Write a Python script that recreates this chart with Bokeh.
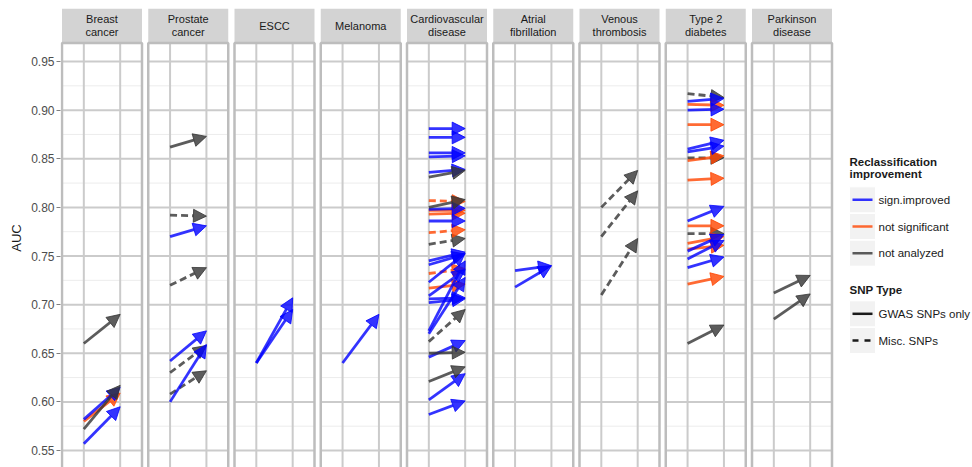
from bokeh.plotting import figure
from bokeh.models import Range1d, FixedTicker, PrintfTickFormatter, Arrow, NormalHead, ColumnDataSource
from bokeh.embed import file_html
from bokeh.resources import INLINE
from bokeh.core.properties import value

# ---------------- data ----------------
panels = ["Breast\ncancer", "Prostate\ncancer", "ESCC", "Melanoma", "Cardiovascular\ndisease",
          "Atrial\nfibrillation", "Venous\nthrombosis", "Type 2\ndiabetes", "Parkinson\ndisease"]

# one entry per study arrow: panel index, AUC without SNPs, AUC with SNPs, reclassification, SNP type
arrow_panel = [0, 0, 0, 0, 0,
               1, 1, 1, 1, 1, 1, 1, 1,
               2, 2,
               3,
               4, 4, 4, 4, 4, 4, 4, 4, 4, 4, 4, 4, 4, 4, 4, 4, 4, 4,
               4, 4, 4, 4, 4, 4, 4, 4, 4, 4, 4, 4,
               5, 5,
               6, 6, 6,
               7, 7, 7, 7, 7, 7, 7, 7, 7, 7, 7, 7, 7, 7, 7, 7, 7, 7, 7, 7,
               8, 8]
auc_without = [0.660, 0.572, 0.582, 0.580, 0.557,
               0.862, 0.792, 0.770, 0.720, 0.642, 0.630, 0.600, 0.608,
               0.640, 0.640,
               0.640,
               0.881, 0.872, 0.856, 0.852, 0.836, 0.798, 0.786, 0.745, 0.741, 0.723, 0.709, 0.706, 0.702, 0.673, 0.670, 0.646, 0.602, 0.587,
               0.831, 0.800, 0.650, 0.621, 0.762, 0.662, 0.797, 0.793, 0.717, 0.807, 0.774, 0.732,
               0.735, 0.718,
               0.800, 0.770, 0.710,
               0.917, 0.909, 0.906, 0.900, 0.885, 0.860, 0.857, 0.851, 0.848, 0.828, 0.786, 0.781, 0.773, 0.763, 0.757, 0.747, 0.738, 0.755, 0.721, 0.660,
               0.712, 0.685]
auc_with = [0.690, 0.617, 0.615, 0.609, 0.595,
            0.873, 0.791, 0.781, 0.738, 0.673, 0.658, 0.659, 0.632,
            0.707, 0.695,
            0.690,
            0.881, 0.872, 0.856, 0.853, 0.839, 0.799, 0.786, 0.754, 0.752, 0.753, 0.736, 0.707, 0.706, 0.745, 0.728, 0.663, 0.629, 0.601,
            0.838, 0.808, 0.651, 0.636, 0.768, 0.695, 0.797, 0.794, 0.721, 0.806, 0.777, 0.737,
            0.740, 0.740,
            0.838, 0.817, 0.768,
            0.913, 0.912, 0.905, 0.901, 0.885, 0.869, 0.863, 0.851, 0.853, 0.830, 0.801, 0.781, 0.773, 0.770, 0.761, 0.766, 0.749, 0.772, 0.729, 0.679,
            0.730, 0.711]
I, N, A = "sign.improved", "not significant", "not analyzed"
reclass = [A, A, I, N, I,
           A, A, I, A, I, A, I, A,
           I, I,
           I,
           I, I, I, I, I, I, I, I, I, I, I, I, I, I, I, I, I, I,
           A, A, A, A, A, A, N, N, N, N, N, N,
           I, I,
           A, A, A,
           A, I, N, I, N, I, I, A, N, N, I, N, A, N, N, I, I, I, N, A,
           A, A]
G, M = "GWAS SNPs only", "Misc. SNPs"
snp_type = [G, G, G, G, G,
            G, M, G, M, G, M, G, M,
            G, G,
            G,
            G, G, G, G, G, G, G, G, G, G, G, G, G, G, G, G, G, G,
            G, G, G, G, M, M, G, G, G, M, M, M,
            G, G,
            M, M, M,
            M, G, G, G, G, G, G, M, G, G, G, G, M, G, G, G, G, G, G, G,
            G, G]

y_ticks = [0.55, 0.60, 0.65, 0.70, 0.75, 0.80, 0.85, 0.90, 0.95]
y_minor = [0.575, 0.625, 0.675, 0.725, 0.775, 0.825, 0.875, 0.925]
reclass_levels = [I, N, A]
snp_levels = [G, M]

# ---------------- styling / layout ----------------
COLORS = {I: "#0000ff", N: "#ff4500", A: "#333333"}
DASHES = {G: "solid", M: "7 4"}
ALPHA = 0.8
FONT = "Liberation Sans"

W, H, LEFT, TOP = 972, 467, 60, 8
FRAME_W = W - LEFT
FRAME_H = H - TOP
PW, PITCH, P0 = 80.0, 86.25, 61.5        # panel width, pitch, left edge (page px)
UPX = PW / 2.2                            # px per x data unit
YPX = 972.5                               # px per AUC unit
XS = 0.4 - (P0 - LEFT) / UPX
XE = XS + FRAME_W / UPX
YS = 0.95 - (H - 61) / YPX
YE = 0.95 + (61 - TOP) / YPX
PANEL_TOP = 0.95 + (61 - 42.5) / YPX
STEP = PITCH / UPX


def X(px):
    return XS + (px - LEFT) / UPX


def Y(py):
    return 0.95 - (py - 61) / YPX


def off(i):
    return i * STEP


p = figure(width=W, height=H, output_backend="svg", toolbar_location=None,
           x_range=Range1d(XS, XE), y_range=Range1d(YS, YE),
           x_axis_location=None, min_border_left=LEFT, min_border_right=0,
           min_border_top=TOP, min_border_bottom=0)
p.outline_line_color = None
p.xgrid.visible = False
p.ygrid.visible = False
p.background_fill_color = "white"
p.border_fill_color = "white"

ax = p.yaxis[0]
ax.ticker = FixedTicker(ticks=y_ticks, minor_ticks=[])
ax.formatter = PrintfTickFormatter(format="%.2f")
ax.axis_line_color = None
ax.major_tick_line_color = "#7f7f7f"
ax.major_tick_out = 4
ax.major_tick_in = 0
ax.minor_tick_line_color = None
ax.major_label_standoff = 2
ax.major_label_text_font = FONT
ax.major_label_text_font_size = "12px"
ax.major_label_text_color = "#4d4d4d"
ax.axis_label = "AUC"
ax.axis_label_text_font = FONT
ax.axis_label_text_font_size = "13px"
ax.axis_label_text_font_style = "normal"
ax.axis_label_text_color = "#1a1a1a"
ax.axis_label_standoff = 4

npan = len(panels)
lefts = [off(i) + 0.4 for i in range(npan)]
rights = [off(i) + 2.6 for i in range(npan)]

# minor grid
mx0, mx1, my = [], [], []
for i in range(npan):
    for m in y_minor:
        mx0.append(lefts[i]); mx1.append(rights[i]); my.append(m)
p.segment(x0=mx0, x1=mx1, y0=my, y1=my, line_color="#ececec", line_width=1)
# major grid
gx0, gx1, gy0, gy1 = [], [], [], []
for i in range(npan):
    for t in y_ticks:
        gx0.append(lefts[i]); gx1.append(rights[i]); gy0.append(t); gy1.append(t)
    for lv in (1, 2):
        gx0.append(off(i) + lv); gx1.append(off(i) + lv); gy0.append(YS - 0.05); gy1.append(PANEL_TOP)
p.segment(x0=gx0, x1=gx1, y0=gy0, y1=gy1, line_color="#cbcbcb", line_width=2)

# strips
p.quad(left=lefts, right=rights, bottom=[PANEL_TOP] * npan, top=[YE] * npan,
       fill_color="#d3d3d3", line_color=None)
# panel borders
p.quad(left=lefts, right=rights, bottom=[YS - 0.05] * npan, top=[PANEL_TOP] * npan,
       fill_color=None, line_color="#bdbdbd", line_width=2.5)
p.text(x=[off(i) + 1.5 for i in range(npan)], y=[Y(25)] * npan, text=panels,
       text_align="center", text_baseline="middle", text_font=value(FONT),
       text_font_size="11px", text_color="#1a1a1a", text_line_height=1.1)

# arrows
order = [(A, M), (N, M), (N, G), (I, G), (A, G)]
for cls, typ in order:
    rows = [k for k in range(len(arrow_panel))
            if reclass[k] == cls and snp_type[k] == typ]
    if not rows:
        continue
    src = ColumnDataSource(dict(
        x0=[off(arrow_panel[k]) + 1 for k in rows],
        x1=[off(arrow_panel[k]) + 2 for k in rows],
        y0=[auc_without[k] for k in rows],
        y1=[auc_with[k] for k in rows]))
    c = COLORS[cls]
    head = NormalHead(size=13, fill_color=c, line_color=c, fill_alpha=ALPHA,
                      line_alpha=ALPHA, line_width=1)
    p.add_layout(Arrow(end=head, x_start="x0", y_start="y0", x_end="x1", y_end="y1",
                       source=src, line_color=c, line_alpha=ALPHA, line_width=2.8,
                       line_dash=DASHES[typ]))

# legend (drawn manually, ggplot style)
TXT = dict(text_font=value(FONT), text_font_size="11.5px", text_color="#1a1a1a",
           text_baseline="middle", text_align="left")
p.text(x=[X(849)], y=[Y(167.5)], text=["Reclassification\nimprovement"],
       text_font_style="bold", text_line_height=1.05, **TXT)
rc_y = [199.3, 226.0, 252.7]
p.quad(left=[X(849)] * 3, right=[X(875)] * 3, top=[Y(c - 13) for c in rc_y],
       bottom=[Y(c + 13) for c in rc_y], fill_color="#f2f2f2", line_color="white", line_width=1)
for lvl, c in zip(reclass_levels, rc_y):
    p.segment(x0=[X(852)], x1=[X(872)], y0=[Y(c)], y1=[Y(c)], line_color=COLORS[lvl],
              line_alpha=ALPHA, line_width=2.5)
p.text(x=[X(878)] * 3, y=[Y(c) for c in rc_y], text=reclass_levels, **TXT)

p.text(x=[X(849)], y=[Y(289.3)], text=["SNP Type"], text_font_style="bold", **TXT)
st_y = [313.3, 340.0]
p.quad(left=[X(849)] * 2, right=[X(875)] * 2, top=[Y(c - 13) for c in st_y],
       bottom=[Y(c + 13) for c in st_y], fill_color="#f2f2f2", line_color="white", line_width=1)
for lvl, c in zip(snp_levels, st_y):
    p.segment(x0=[X(852)], x1=[X(872)], y0=[Y(c)], y1=[Y(c)], line_color="#1a1a1a",
              line_width=2.5, line_dash=("solid" if lvl == G else "6 6"))
p.text(x=[X(878)] * 2, y=[Y(c) for c in st_y], text=snp_levels, **TXT)

open("out.html", "w").write(file_html(p, INLINE))
